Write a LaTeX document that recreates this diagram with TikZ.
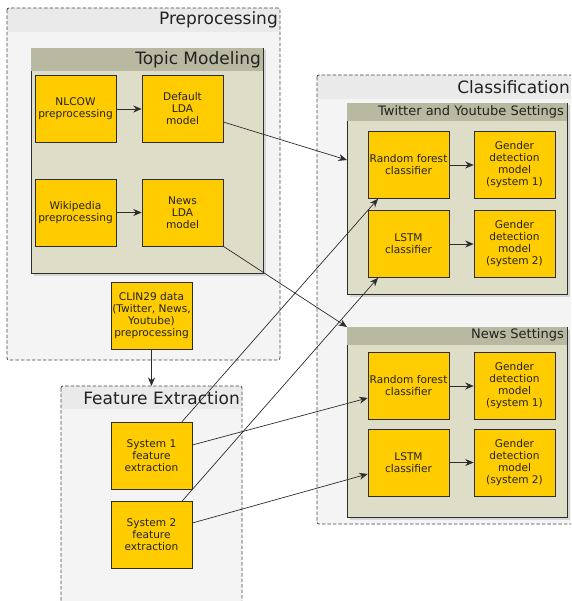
\documentclass[tikz,border=0pt]{standalone}
\usepackage{fontspec}
\setmainfont{DejaVu Sans}
\usetikzlibrary{arrows.meta,shadows}
\definecolor{boxyellow}{RGB}{255,204,0}
\definecolor{linegray}{RGB}{45,45,45}
\definecolor{textdark}{RGB}{34,34,34}
\definecolor{dashgray}{RGB}{70,70,70}
\definecolor{dashbodygray}{RGB}{244,244,244}
\definecolor{dashheadgray}{RGB}{234,234,234}
\definecolor{groupbody}{RGB}{222,221,199}
\definecolor{grouphead}{RGB}{185,184,161}
\begin{document}
\begin{tikzpicture}[x=1pt, y=-1pt,
  box/.style={draw=linegray, fill=boxyellow, line width=0.6pt, minimum width=81pt, minimum height=67pt, inner sep=0.5pt, align=center, text=textdark, font=\fontsize{10.6}{12}\selectfont},
  dashbody/.style={fill=dashbodygray, rounded corners=2pt, inner sep=0pt, outer sep=0pt},
  dashline/.style={draw=dashgray, line width=0.75pt, dash pattern=on 3.5pt off 2pt, rounded corners=2pt},
  group/.style={draw=linegray, fill=groupbody, line width=0.6pt, inner sep=0pt, outer sep=0pt, drop shadow={shadow xshift=2.5pt, shadow yshift=-2.5pt, opacity=0.25}},
  bigtitle/.style={anchor=east, inner sep=0pt, text=textdark, font=\fontsize{17}{20}\selectfont},
  smalltitle/.style={anchor=east, inner sep=0pt, text=textdark, font=\fontsize{13}{15}\selectfont},
  link/.style={draw=linegray, line width=0.7pt, -{Stealth[length=8.5pt,width=7pt]}}]
\useasboundingbox (0,0) rectangle (571,601);
\clip (0,0) rectangle (571,601);

% containers
\node [dashbody, minimum width=273pt, minimum height=352pt] (prep) at (143.5,184) {};
\fill [dashheadgray] (prep.north west) rectangle ([yshift=-24pt]prep.north east);
\draw [dashline] (prep.north west) rectangle (prep.south east);
\node [bigtitle] (preptitle) at (278,20) {Preprocessing};

\node [group, minimum width=232pt, minimum height=225pt] (topic) at (147,160.5) {};
\fill [grouphead] ([shift={(0.3pt,-0.3pt)}]topic.north west) rectangle ([shift={(-0.3pt,-23pt)}]topic.north east);
\node [bigtitle] (topictitle) at (261,60) {Topic Modeling};

\node [dashbody, minimum width=181pt, minimum height=224pt] (feat) at (151.5,498) {};
\fill [dashheadgray] (feat.north west) rectangle ([yshift=-23pt]feat.north east);
\draw [dashline] (feat.north west) rectangle (feat.south east);
\node [bigtitle] (feattitle) at (240,398) {Feature Extraction};

\node [dashbody, minimum width=256pt, minimum height=449pt] (cls) at (445,299.5) {};
\fill [dashheadgray] (cls.north west) rectangle ([yshift=-24pt]cls.north east);
\draw [dashline] (cls.north west) rectangle (cls.south east);
\node [bigtitle] (clstitle) at (570,87) {Classification};

\node [group, minimum width=220pt, minimum height=191pt] (tys) at (457,198.5) {};
\fill [grouphead] ([shift={(0.3pt,-0.3pt)}]tys.north west) rectangle ([shift={(-0.3pt,-18pt)}]tys.north east);
\node [smalltitle] (tystitle) at (564,112) {Twitter and Youtube Settings};

\node [group, minimum width=220pt, minimum height=190pt] (nws) at (457,422) {};
\fill [grouphead] ([shift={(0.3pt,-0.3pt)}]nws.north west) rectangle ([shift={(-0.3pt,-18pt)}]nws.north east);
\node [smalltitle] (nwstitle) at (564,335) {News Settings};

% boxes
\node [box] (nlcow) at (75.5,109) {NLCOW\\preprocessing};
\node [box] (dlda) at (182.5,109) {Default\\LDA\\model};
\node [box] (wiki) at (75.5,212.5) {Wikipedia\\preprocessing};
\node [box] (nlda) at (182.5,212.5) {News\\LDA\\model};
\node [box] (clin) at (151.5,315.5) {CLIN29 data\\(Twitter, News,\\Youtube)\\preprocessing};
\node [box] (sys1) at (151.5,455.5) {System 1\\feature\\extraction};
\node [box] (sys2) at (151.5,535) {System 2\\feature\\extraction};
\node [box] (tyrf) at (408.5,165) {Random forest\\classifier};
\node [box] (tyg1) at (514.5,165) {Gender\\detection\\model\\(system 1)};
\node [box] (tylstm) at (408.5,244) {LSTM\\classifier};
\node [box] (tyg2) at (514.5,244) {Gender\\detection\\model\\(system 2)};
\node [box] (nrf) at (408.5,386) {Random forest\\classifier};
\node [box] (ng1) at (514.5,386) {Gender\\detection\\model\\(system 1)};
\node [box] (nlstm) at (408.5,462.5) {LSTM\\classifier};
\node [box] (ng2) at (514.5,462.5) {Gender\\detection\\model\\(system 2)};

% connectors
\draw [link] (nlcow) -- (dlda);
\draw [link] (wiki) -- (nlda);
\draw [link] (clin) -- (feat.north);
\draw [link] (tyrf) -- (tyg1);
\draw [link] (tylstm) -- (tyg2);
\draw [link] (nrf) -- (ng1);
\draw [link] (nlstm) -- (ng2);
\draw [link] ([yshift=-13pt]dlda.east) -- ([yshift=38.5pt]tys.west);
\draw [link] (nlda.south east) -- (nws.north west);
\draw [link] ([xshift=30.5pt]sys1.north) -- ([xshift=-30.5pt]tyrf.south);
\draw [link] ([xshift=30.5pt]sys2.north) -- ([xshift=-30.5pt]tylstm.south);
\draw [link] ([yshift=10.5pt]sys1.east) -- ([yshift=-12pt]nrf.west);
\draw [link] ([yshift=12pt]sys2.east) -- ([yshift=-11.5pt]nlstm.west);
\end{tikzpicture}
\end{document}
